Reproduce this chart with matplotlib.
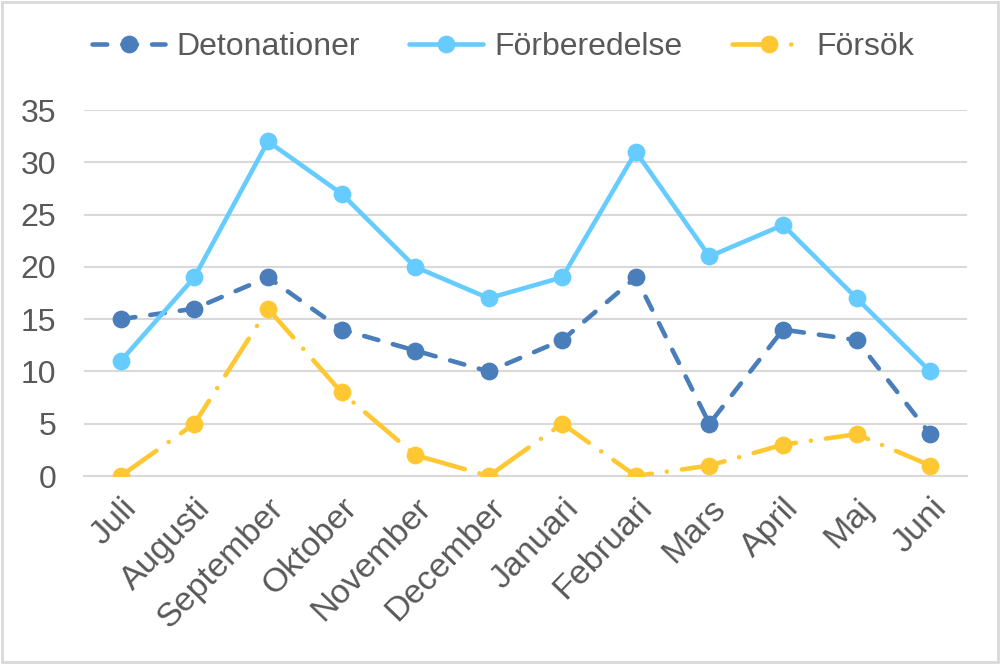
import matplotlib
matplotlib.use("Agg")
import matplotlib.pyplot as plt
from matplotlib.patches import Rectangle

months = ["Juli", "Augusti", "September", "Oktober", "November", "December",
          "Januari", "Februari", "Mars", "April", "Maj", "Juni"]
detonationer = [15, 16, 19, 14, 12, 10, 13, 19, 5, 14, 13, 4]
forberedelse = [11, 19, 32, 27, 20, 17, 19, 31, 21, 24, 17, 10]
forsok = [0, 5, 16, 8, 2, 0, 5, 0, 1, 3, 4, 1]
yticks = [0, 5, 10, 15, 20, 25, 30, 35]

plt.rcParams['font.family'] = ['Liberation Sans', 'DejaVu Sans']
TXT = '#595959'

fig = plt.figure(figsize=(10, 6.64), dpi=100)
ax = fig.add_axes([0.084, 1 - 476 / 664, 0.883, (476 - 110) / 664])

x = list(range(len(months)))
lw = 3.3
ms = 11.8
l1, = ax.plot(x, detonationer, color='#4A7EBB', lw=lw, marker='o', ms=ms,
              dash_capstyle='round', solid_capstyle='round', label='Detonationer', zorder=3)
l1.set_dashes((3.2, 3.3))
l2, = ax.plot(x, forberedelse, color='#66CCFF', lw=lw, marker='o', ms=ms,
              solid_capstyle='round', label='Förberedelse', zorder=3)
l3, = ax.plot(x, forsok, color='#FFC832', lw=lw, marker='o', ms=ms,
              dash_capstyle='round', label='Försök', zorder=3)
l3.set_dashes((9.5, 3.3, 0.01, 3.3))

ax.set_xlim(-0.5, len(months) - 0.5)
ax.set_ylim(0, 35)
ax.set_yticks(yticks)
ax.yaxis.grid(True, color='#D9D9D9', lw=1.5)
ax.set_axisbelow(True)
for s in ax.spines.values():
    s.set_visible(False)
ax.spines['bottom'].set_visible(True)
ax.spines['bottom'].set_color('#D9D9D9')
ax.spines['bottom'].set_linewidth(1.5)
ax.tick_params(axis='both', length=0, labelsize=23, labelcolor=TXT)
ax.tick_params(axis='y', pad=20)
ax.set_xticks(x)
ax.set_xticklabels(months, rotation=46, ha='right', rotation_mode='anchor', fontsize=24.5)
ax.tick_params(axis='x', pad=12)

leg = fig.legend(handles=[l1, l2, l3], loc='center', bbox_to_anchor=(0.503, 1 - 47 / 664),
                 ncol=3, frameon=False, fontsize=23, labelcolor=TXT,
                 handlelength=2.3, columnspacing=1.55, handletextpad=0.35)

fig.patches.append(Rectangle((0.002, 0.003), 0.996, 0.994, transform=fig.transFigure,
                             fill=False, edgecolor='#D9D9D9', lw=2))

fig.savefig('out.png', dpi=100)
